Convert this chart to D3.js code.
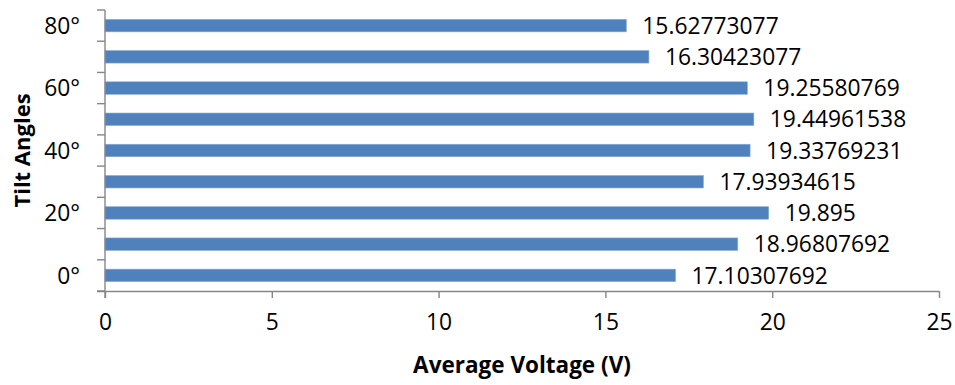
<!DOCTYPE html>
<html>
<head>
<meta charset="utf-8">
<script src="https://cdn.jsdelivr.net/npm/d3@7"></script>
<style>
  html, body { margin: 0; padding: 0; background: #fff; }
  svg text { font-family: "Open Sans", "Liberation Sans", sans-serif; fill: #000; }
</style>
</head>
<body>
<svg id="chart" width="955" height="385"></svg>
<script>
// Tilt angle categories (bottom to top) and their average voltages
const angles = ["0°", "10°", "20°", "30°", "40°", "50°", "60°", "70°", "80°"];
const voltages = [17.10307692, 18.96807692, 19.895, 17.93934615, 19.33769231,
                  19.44961538, 19.25580769, 16.30423077, 15.62773077];
const valueLabels = ["17.10307692", "18.96807692", "19.895", "17.93934615", "19.33769231",
                     "19.44961538", "19.25580769", "16.30423077", "15.62773077"];
const labelledAngles = ["0°", "20°", "40°", "60°", "80°"];
const xTicks = [0, 5, 10, 15, 20, 25];

const svg = d3.select("#chart");
const margin = { left: 105, right: 16, top: 10, bottom: 94 };
const W = 955, H = 385;
const axisColor = "#868686";

const x = d3.scaleLinear().domain([0, 25]).range([margin.left, W - margin.right]);
const y = d3.scaleBand().domain(angles.slice().reverse())
  .range([margin.top, H - margin.bottom]).paddingInner(0.6).paddingOuter(0.3);
// Full category bands (no padding) for the boundary tick marks
const yb = d3.scaleBand().domain(angles.slice().reverse())
  .range([margin.top, H - margin.bottom]);

// Bars
svg.append("g").selectAll("rect").data(angles).join("rect")
  .attr("x", x(0))
  .attr("y", d => y(d))
  .attr("width", (d, i) => x(voltages[i]) - x(0))
  .attr("height", y.bandwidth())
  .attr("fill", "#4F81BD")
  .attr("stroke", "#8CAAD6")
  .attr("stroke-width", 0.6);

// Value labels
svg.append("g").selectAll("text").data(angles).join("text")
  .attr("x", (d, i) => x(voltages[i]) + 16)
  .attr("y", d => y(d) + y.bandwidth() / 2)
  .attr("dy", "0.36em")
  .attr("font-size", "22.8px")
  .text((d, i) => valueLabels[i]);

// X axis
const xAxis = svg.append("g")
  .attr("transform", `translate(0,${H - margin.bottom})`)
  .call(d3.axisBottom(x).tickValues(xTicks).tickSize(7).tickPadding(16).tickFormat(d3.format("d")));
xAxis.select(".domain").attr("stroke", axisColor).attr("stroke-width", 1.4)
  .attr("d", `M${x(0) - 8},0.5H${x(25)}`);
xAxis.selectAll(".tick line").attr("stroke", axisColor).attr("stroke-width", 1.4);
xAxis.selectAll(".tick text").attr("font-size", "22.8px").attr("font-family", "Open Sans, sans-serif").attr("fill", "#000");

// Y axis: line plus ticks at category boundaries
const yAxis = svg.append("g");
yAxis.append("line")
  .attr("x1", x(0)).attr("x2", x(0))
  .attr("y1", margin.top).attr("y2", H - margin.bottom + 7)
  .attr("stroke", axisColor).attr("stroke-width", 1.4);
const boundaries = angles.map(a => yb(a)).concat([H - margin.bottom]);
yAxis.selectAll("line.tick").data(boundaries).join("line")
  .attr("class", "tick")
  .attr("x1", x(0) - 8).attr("x2", x(0))
  .attr("y1", d => d).attr("y2", d => d)
  .attr("stroke", axisColor).attr("stroke-width", 1.4);
yAxis.selectAll("text").data(labelledAngles).join("text")
  .attr("x", x(0) - 25)
  .attr("y", d => yb(d) + yb.bandwidth() / 2)
  .attr("dy", "0.36em")
  .attr("text-anchor", "end")
  .attr("font-size", "22.8px")
  .text(d => d);

// Axis titles
svg.append("text")
  .attr("x", (x(0) + x(25)) / 2)
  .attr("y", 373)
  .attr("text-anchor", "middle")
  .attr("font-size", "22.5px")
  .attr("font-weight", "bold")
  .text("Average Voltage (V)");

svg.append("text")
  .attr("transform", `translate(30,${(margin.top + H - margin.bottom) / 2}) rotate(-90)`)
  .attr("text-anchor", "middle")
  .attr("font-size", "22px")
  .attr("font-weight", "bold")
  .text("Tilt Angles");
</script>
</body>
</html>
